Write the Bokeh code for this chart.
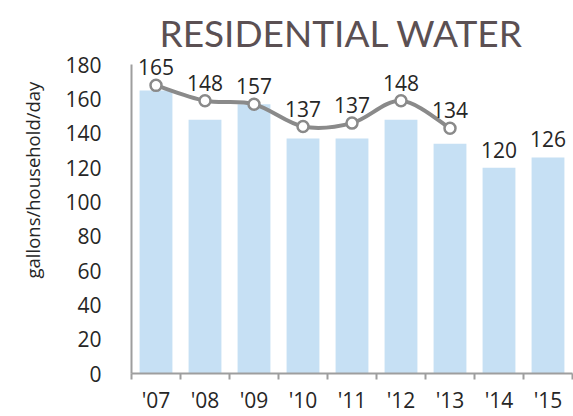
import numpy as np
from bokeh.plotting import figure
from bokeh.models import Range1d, FixedTicker, Title, ColumnDataSource
from bokeh.core.properties import value
from bokeh.embed import file_html
from bokeh.resources import INLINE

years = ["'07", "'08", "'09", "'10", "'11", "'12", "'13", "'14", "'15"]
usage = [165, 148, 157, 137, 137, 148, 134, 120, 126]
trend = [168, 159, 157, 144, 146, 159, 143]
title_text = "RESIDENTIAL WATER"
y_label = "gallons/household/day"
y_ticks = [0, 20, 40, 60, 80, 100, 120, 140, 160, 180]

FONT = "Open Sans"
TXT = "#262626"

x = np.arange(len(years), dtype=float)

p = figure(width=573, height=416, output_backend="svg", toolbar_location=None,
           x_range=Range1d(-0.5, len(years) - 0.5), y_range=Range1d(0, 186),
           min_border_left=130, min_border_right=1, min_border_top=54,
           min_border_bottom=41)
p.outline_line_color = None
p.grid.visible = False
p.background_fill_color = "white"
p.border_fill_color = "white"

p.title.text = title_text
p.title.text_font = "Lato"
p.title.text_font_size = "37px"
p.title.text_font_style = "normal"
p.title.text_color = "#5b5053"
p.title.align = "left"
p.title.offset = 28
p.title.standoff = 0

# bars
p.vbar(x=x, top=usage, width=0.67, color="#c6e0f4", line_color=None)

# smoothed trend line (bezier segments computed from the points)
tx = x[:len(trend)]
ty = np.array(trend, dtype=float)
n = len(trend)
x0, y0, x1, y1, cx0, cy0, cx1, cy1 = ([] for _ in range(8))
for i in range(n - 1):
    pa = max(i - 1, 0)
    pd = min(i + 2, n - 1)
    x0.append(tx[i]); y0.append(ty[i]); x1.append(tx[i + 1]); y1.append(ty[i + 1])
    cx0.append(tx[i] + (tx[i + 1] - tx[pa]) / 6); cy0.append(ty[i] + (ty[i + 1] - ty[pa]) / 6)
    cx1.append(tx[i + 1] - (tx[pd] - tx[i]) / 6); cy1.append(ty[i + 1] - (ty[pd] - ty[i]) / 6)
p.bezier(x0=x0, y0=y0, x1=x1, y1=y1, cx0=cx0, cy0=cy0, cx1=cx1, cy1=cy1,
         line_color="#8a8a8a", line_width=4)
p.scatter(tx, ty, size=11, fill_color="white", line_color="#8a8a8a", line_width=2.5)

# data labels
anchor = list(trend) + usage[len(trend):]
src = ColumnDataSource(dict(x=x, y=anchor, t=[str(v) for v in usage]))
p.text(x="x", y="y", text="t", source=src, text_font=value(FONT),
       text_font_size="21px", text_color=TXT, text_align="center",
       text_baseline="middle", y_offset=-18)

# x axis
xa = p.xaxis[0]
xa.ticker = FixedTicker(ticks=list(x), minor_ticks=list(np.arange(-0.5, len(years), 1.0)))
xa.major_label_overrides = {int(i): years[int(i)] for i in x}
xa.major_tick_line_color = None
xa.major_tick_out = 0
xa.major_tick_in = 0
xa.minor_tick_line_color = "#9e9e9e"
xa.minor_tick_line_width = 2
xa.minor_tick_out = 6
xa.minor_tick_in = 0
xa.axis_line_color = "#9e9e9e"
xa.axis_line_width = 2
xa.major_label_text_font = FONT
xa.major_label_text_font_size = "21px"
xa.major_label_text_color = TXT
xa.major_label_standoff = 6

# y axis
ya = p.yaxis[0]
ya.ticker = FixedTicker(ticks=y_ticks)
ya.bounds = (0, 180)
ya.major_tick_line_color = None
ya.minor_tick_line_color = None
ya.major_tick_out = 0
ya.axis_line_color = "#9e9e9e"
ya.axis_line_width = 2
ya.major_label_text_font = FONT
ya.major_label_text_font_size = "21px"
ya.major_label_text_color = TXT
ya.major_label_standoff = 30

p.add_layout(Title(text=y_label, align="left", offset=95, standoff=35,
                   text_font=FONT, text_font_size="18.5px", text_font_style="normal",
                   text_color=TXT), "left")

open("out.html", "w").write(file_html(p, INLINE))
